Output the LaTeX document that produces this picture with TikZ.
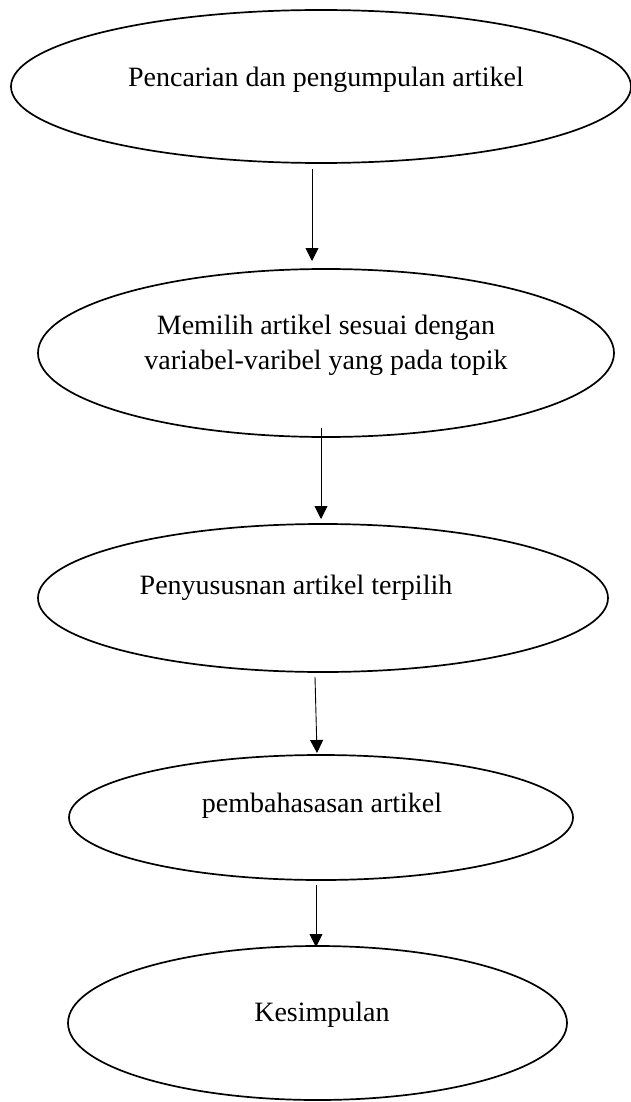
\documentclass[tikz,border=0pt]{standalone}
\usepackage{fontspec}
\setmainfont{Liberation Serif}
\usetikzlibrary{shapes.geometric,arrows.meta}
\begin{document}
\begin{tikzpicture}[x=1pt,y=-1pt,
  ell/.style={draw=black, line width=1.7pt, ellipse, inner sep=0pt, outer sep=0pt},
  lbl/.style={font=\fontsize{28}{35}\selectfont, align=center, inner sep=0pt},
  conn/.style={draw=black, line width=0.9pt, -{Triangle[width=13pt,length=13pt]}}]
\useasboundingbox (0,0) rectangle (631,1102);
\fill[white] (0,0) rectangle (631,1102);
% ellipses
\node[ell, minimum width=620pt, minimum height=153pt] (e1) at (321,86.5) {};
\node[ell, minimum width=576pt, minimum height=168pt] (e2) at (326,353) {};
\node[ell, minimum width=570pt, minimum height=148pt] (e3) at (323,598) {};
\node[ell, minimum width=504pt, minimum height=125pt] (e4) at (321,817.5) {};
\node[ell, minimum width=499pt, minimum height=154pt] (e5) at (317.5,1023) {};
% labels
\node[lbl] (t1) at (326,80) {Pencarian dan pengumpulan artikel};
\node[lbl] (t2) at (326,345) {Memilih artikel sesuai dengan\\variabel-varibel yang pada topik};
\node[lbl] (t3) at (296,588) {Penyususnan artikel terpilih};
\node[lbl] (t4) at (322,806) {pembahasasan artikel};
\node[lbl] (t5) at (322,1015) {Kesimpulan};
% connector ends
\coordinate (a1s) at (312,169);
\coordinate (a1e) at (312,261);
\coordinate (a2s) at (321,428);
\coordinate (a2e) at (321,519);
\coordinate (a3s) at (315,677);
\coordinate (a3e) at (317,753);
\coordinate (a4s) at (316,885);
\coordinate (a4e) at (316,947);
\draw[conn] (a1s) -- (a1e);
\draw[conn] (a2s) -- (a2e);
\draw[conn] (a3s) -- (a3e);
\draw[conn] (a4s) -- (a4e);
\end{tikzpicture}
\end{document}
